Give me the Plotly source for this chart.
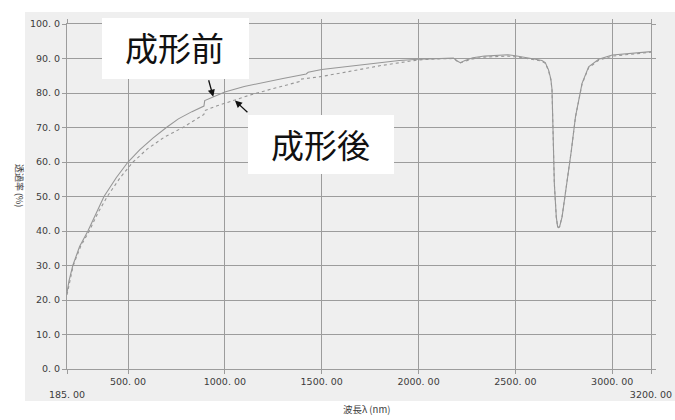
import plotly.graph_objects as go

# ---------------- data ----------------
wl_before = [185, 195, 215, 250, 293, 335, 376, 440, 500, 560, 630, 698, 760, 830, 892, 896, 940, 974,
             1000, 1100, 1200, 1300, 1420, 1430, 1500, 1600, 1700, 1800, 1900, 2000, 2100, 2180, 2200,
             2215, 2240, 2280, 2340, 2400, 2460, 2500, 2560, 2603, 2637, 2654, 2671, 2683, 2689, 2692,
             2696, 2701, 2711, 2718, 2723, 2728, 2741, 2767, 2789, 2810, 2844, 2878, 2930, 3000, 3100, 3200]
t_before = [22.0, 25.5, 30.0, 35.5, 40.0, 45.2, 50.0, 55.5, 60.0, 63.5, 67.0, 70.0, 72.5, 74.6, 76.2, 77.8,
            78.9, 79.8, 80.3, 81.9, 83.1, 84.2, 85.5, 86.0, 86.8, 87.5, 88.2, 88.9, 89.4, 89.8, 90.0, 90.1,
            89.3, 88.8, 89.4, 90.2, 90.7, 91.0, 91.1, 90.8, 90.3, 89.8, 89.4, 88.8, 86.7, 84.0, 81.0, 74.0,
            62.0, 53.8, 44.1, 41.2, 41.0, 41.2, 44.1, 53.8, 63.4, 73.1, 82.8, 87.6, 89.8, 91.0, 91.5, 92.0]

wl_after = [185, 195, 217, 255, 300, 345, 393, 460, 526, 600, 690, 783, 840, 892, 896, 960, 1043, 1129,
            1250, 1385, 1392, 1490, 1600, 1700, 1800, 1905, 2000, 2100, 2180, 2200, 2215, 2240, 2280, 2340,
            2400, 2460, 2500, 2560, 2603, 2637, 2654, 2671, 2683, 2689, 2692, 2696, 2701, 2711, 2718, 2723,
            2728, 2741, 2767, 2789, 2810, 2844, 2878, 2930, 3000, 3100, 3200]
t_after = [21.5, 24.5, 30.0, 35.5, 40.0, 45.3, 50.0, 55.5, 60.0, 63.8, 67.3, 70.0, 71.9, 73.8, 74.9, 76.3,
           77.8, 79.4, 81.3, 83.3, 84.0, 84.7, 85.8, 86.9, 87.9, 88.8, 89.6, 89.9, 90.0, 89.2, 88.7, 89.2,
           89.9, 90.4, 90.6, 90.7, 90.5, 90.1, 89.6, 89.2, 88.6, 86.5, 83.8, 80.8, 73.8, 61.8, 53.6, 44.0,
           41.2, 41.0, 41.3, 44.2, 53.9, 63.4, 73.0, 82.6, 87.3, 89.5, 90.7, 91.3, 91.8]

x_tick_vals = [185, 500, 1000, 1500, 2000, 2500, 3000, 3200]
x_tick_text = ["<br>185. 00", "500. 00", "1000. 00", "1500. 00", "2000. 00", "2500. 00", "3000. 00", "<br>3200. 00"]
y_tick_vals = [0, 10, 20, 30, 40, 50, 60, 70, 80, 90, 100]
y_tick_text = ["0. 0", "10. 0", "20. 0", "30. 0", "40. 0", "50. 0", "60. 0", "70. 0", "80. 0", "90. 0", "100. 0"]

label_before = "成形前"
label_after = "成形後"
x_title = "波長λ (nm)"
y_title = "透過率 (%)"

# ---------------- layout helpers ----------------
W, H = 675, 420
L, R, T, B = 67, 24, 24, 51
PW, PH = W - L - R, H - T - B


def px(x):
    return (x - L) / PW


def py(y):
    return (H - B - y) / PH


CJK = "Noto Sans CJK JP"
grid_col = "#9c9c9c"
tick_font = dict(family="DejaVu Sans, " + CJK, size=9.5, color="#3c3c3c")

fig = go.Figure()
fig.add_trace(go.Scatter(x=wl_before, y=t_before, mode="lines", name=label_before,
                         line=dict(color="#979797", width=1.1)))
fig.add_trace(go.Scatter(x=wl_after, y=t_after, mode="lines", name=label_after,
                         line=dict(color="#979797", width=1.1, dash="dot")))

fig.update_layout(
    width=W, height=H,
    margin=dict(l=L, r=R, t=T, b=B, autoexpand=False),
    paper_bgcolor="white",
    plot_bgcolor="rgba(0,0,0,0)",
    showlegend=False,
    xaxis=dict(range=[185, 3200], tickvals=x_tick_vals, ticktext=x_tick_text, tickangle=0,
               automargin=False,
               showgrid=True, gridcolor=grid_col, gridwidth=1,
               showline=True, linecolor=grid_col, linewidth=1, mirror="ticks",
               ticks="outside", ticklen=4, tickcolor=grid_col,
               tickfont=tick_font, zeroline=False, fixedrange=True),
    yaxis=dict(range=[0, 100], tickvals=y_tick_vals, ticktext=y_tick_text,
               automargin=False,
               showgrid=True, gridcolor=grid_col, gridwidth=1,
               showline=True, linecolor=grid_col, linewidth=1, mirror="ticks",
               ticks="outside", ticklen=4, tickcolor=grid_col,
               tickfont=tick_font, zeroline=False, fixedrange=True),
)

shapes = [
    # scanned paper background
    dict(type="rect", xref="paper", yref="paper", x0=px(25), x1=px(675), y0=py(401), y1=py(12),
         fillcolor="#efefef", line=dict(width=0), layer="below"),
    # white label boxes
    dict(type="rect", xref="paper", yref="paper", x0=px(102), x1=px(249), y0=py(79), y1=py(18),
         fillcolor="white", line=dict(width=0), layer="above"),
    dict(type="rect", xref="paper", yref="paper", x0=px(248), x1=px(394), y0=py(174), y1=py(115),
         fillcolor="white", line=dict(width=0), layer="above"),
]
fig.update_layout(shapes=shapes)

annotations = [
    dict(text=label_before, xref="paper", yref="paper", x=px(174), y=py(47),
         xanchor="center", yanchor="middle", showarrow=False,
         font=dict(family=CJK, size=33, color="#111111")),
    dict(text=label_after, xref="paper", yref="paper", x=px(320), y=py(144),
         xanchor="center", yanchor="middle", showarrow=False,
         font=dict(family=CJK, size=33, color="#111111")),
    # arrows
    dict(text="", xref="x", yref="y", x=940, y=78.9, ax=-5, ay=-18, showarrow=True,
         arrowhead=2, arrowsize=1.1, arrowwidth=1.3, arrowcolor="#111111"),
    dict(text="", xref="x", yref="y", x=1052, y=77.8, ax=14, ay=13, showarrow=True,
         arrowhead=2, arrowsize=1.1, arrowwidth=1.3, arrowcolor="#111111"),
    # axis titles
    dict(text=x_title, xref="paper", yref="paper", x=px(366), y=py(409),
         xanchor="center", yanchor="middle", showarrow=False,
         font=dict(family=CJK, size=9.5, color="#3c3c3c")),
    dict(text=y_title, xref="paper", yref="paper", x=px(20), y=py(185),
         xanchor="center", yanchor="middle", showarrow=False, textangle=90,
         font=dict(family=CJK, size=9, color="#3c3c3c")),
]
fig.update_layout(annotations=annotations)

fig.write_html("out.html")
